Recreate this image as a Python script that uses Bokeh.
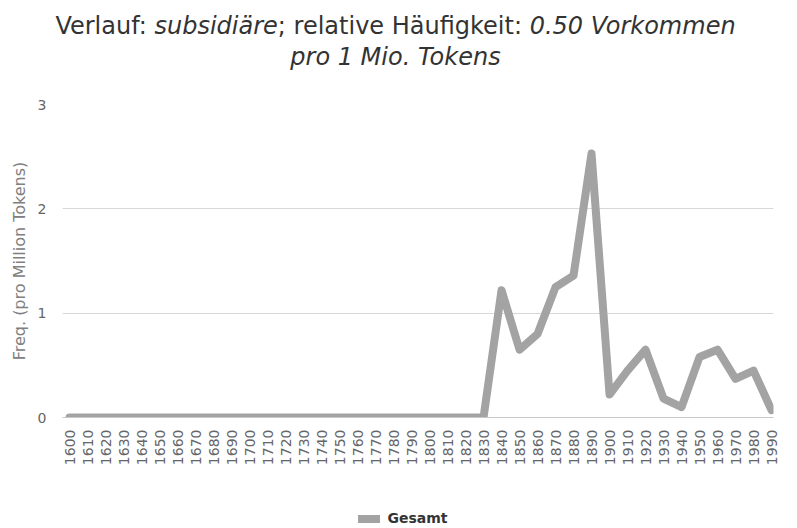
from bokeh.plotting import figure
from bokeh.models import Div, Range1d, FixedTicker, ColumnDataSource
from bokeh.layouts import column
from bokeh.embed import file_html
from bokeh.resources import INLINE
import math

years = [1600, 1610, 1620, 1630, 1640, 1650, 1660, 1670, 1680, 1690,
         1700, 1710, 1720, 1730, 1740, 1750, 1760, 1770, 1780, 1790,
         1800, 1810, 1820, 1830, 1840, 1850, 1860, 1870, 1880, 1890,
         1900, 1910, 1920, 1930, 1940, 1950, 1960, 1970, 1980, 1990]
freq = [0.0, 0.0, 0.0, 0.0, 0.0, 0.0, 0.0, 0.0, 0.0, 0.0,
        0.0, 0.0, 0.0, 0.0, 0.0, 0.0, 0.0, 0.0, 0.0, 0.0,
        0.0, 0.0, 0.0, 0.0, 1.22, 0.65, 0.80, 1.25, 1.36, 2.53,
        0.22, 0.45, 0.65, 0.18, 0.10, 0.58, 0.65, 0.37, 0.45, 0.07]
y_ticks = [0, 1, 2, 3]
series_name = "Gesamt"
series_color = "#a3a3a3"

FONT = "DejaVu Sans"

title_html = (
    '<div style="width:781px;text-align:center;font-family:\'DejaVu Sans\';'
    'font-size:24px;line-height:31px;color:#333333;padding-top:6px;">'
    'Verlauf: <i>subsidiäre</i>; relative Häufigkeit: <i>0.50 Vorkommen<br>'
    'pro 1 Mio. Tokens</i></div>'
)
div = Div(text=title_html, width=781, height=80)

src = ColumnDataSource(dict(x=years, y=freq))

p = figure(frame_width=711, frame_height=313, output_backend="svg", toolbar_location=None,
           x_range=Range1d(1596.1, 1991.1), y_range=Range1d(0, 3.0),
           min_border_left=62, min_border_right=8, min_border_top=14,
           min_border_bottom=60)

line = p.line("x", "y", source=src, line_color=series_color, line_width=8,
              line_join="round", line_cap="round")

p.outline_line_color = None
p.background_fill_color = "white"

p.xgrid.grid_line_color = None
p.ygrid.grid_line_color = "#d8d8d8"
p.ygrid.grid_line_width = 1

p.yaxis.ticker = FixedTicker(ticks=y_ticks)
p.yaxis.axis_line_color = None
p.yaxis.major_tick_line_color = None
p.yaxis.minor_tick_line_color = None
p.yaxis.major_tick_out = 0
p.yaxis.minor_tick_out = 0
p.yaxis.major_label_text_font = FONT
p.yaxis.major_label_text_font_size = "14px"
p.yaxis.major_label_text_color = "#666666"
p.yaxis.major_label_standoff = 16
p.yaxis.axis_label = "Freq. (pro Million Tokens)"
p.yaxis.axis_label_text_font = FONT
p.yaxis.axis_label_text_font_size = "16px"
p.yaxis.axis_label_text_font_style = "normal"
p.yaxis.axis_label_text_color = "#808080"
p.yaxis.axis_label_standoff = 6

p.xaxis.ticker = FixedTicker(ticks=years)
p.xaxis.major_label_orientation = math.pi / 2
p.xaxis.axis_line_color = "#c8c8c8"
p.xaxis.axis_line_width = 1
p.xaxis.major_tick_line_color = None
p.xaxis.minor_tick_line_color = None
p.xaxis.major_tick_out = 0
p.xaxis.minor_tick_out = 0
p.xaxis.major_label_text_font = FONT
p.xaxis.major_label_text_font_size = "14px"
p.xaxis.major_label_text_color = "#666666"
p.xaxis.major_label_standoff = 12

legend_html = (
    '<div style="width:781px;text-align:center;padding-top:27px;padding-left:15px;'
    'box-sizing:border-box;font-family:\'DejaVu Sans\';font-size:14px;'
    'font-weight:bold;color:#333333;line-height:18px;">'
    '<span style="display:inline-block;width:22px;height:8px;background:' + series_color + ';'
    'vertical-align:middle;margin-right:7px;"></span>' + series_name + '</div>'
)
legend_div = Div(text=legend_html, width=781, height=45)

layout = column(div, p, legend_div, spacing=0)

open("out.html", "w").write(file_html(layout, INLINE))
